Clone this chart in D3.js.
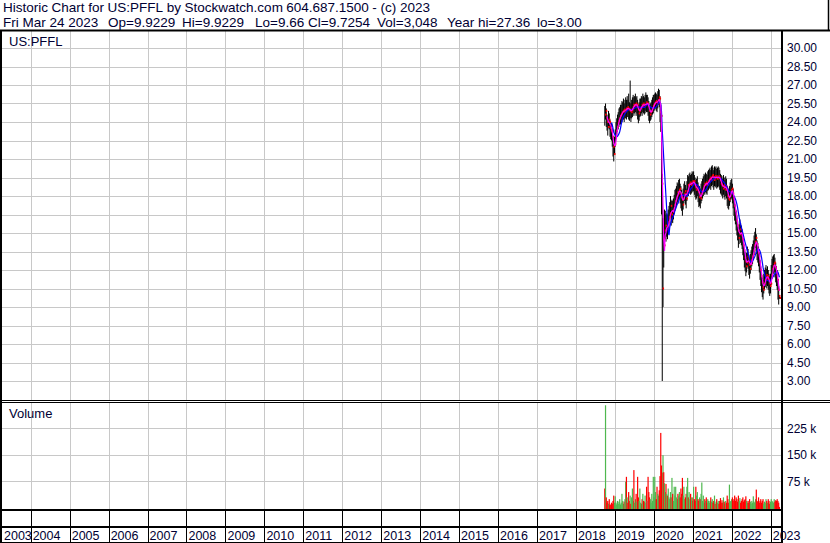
<!DOCTYPE html>
<html>
<head>
<meta charset="utf-8">
<script src="https://cdn.jsdelivr.net/npm/d3@7"></script>
<style>
    body { margin: 0; background: #fff; }
    text { font-family: "Liberation Sans", Arial, sans-serif; fill: #000033; }
</style>
</head>
<body>
<svg id="chart" width="830" height="543"></svg>
<script>
// weekly bars, one per friday
var firstWeek = new Date(2018, 8, 28);
var lastWeek = new Date(2023, 2, 25);

var closes = [
    24.6, 24.9, 24.3, 24.0, 23.6, 24.2, 24.0, 23.5, 23.3, 23.2, 22.8, 22.0, 21.4, 22.2,
    22.8, 23.3, 23.6, 23.9, 24.1, 24.3, 24.5, 24.6, 24.7, 24.8, 24.9, 25.0, 24.8, 25.0, 25.1, 25.0, 25.2,
    25.1, 25.0, 24.9, 25.0, 24.8, 25.0, 25.2, 25.4, 25.3, 25.4, 25.5, 25.3, 25.4, 25.0, 24.7, 24.9, 25.1, 25.2,
    25.4, 25.3, 25.5, 25.4, 25.3, 25.4, 25.6, 25.5, 25.5, 25.3, 24.9, 24.6, 24.8, 24.9, 25.1, 25.3, 25.4,
    25.5, 25.6, 25.7, 25.6, 25.5, 25.8, 26.0, 25.9, 24.8, 24.5, 19.0, 10.5, 14.5, 14.0, 15.2, 15.6, 15.3,
    15.6, 15.4, 15.9, 16.3, 16.6, 17.2, 16.5, 16.8, 16.7, 17.0, 17.3, 17.6, 17.8, 18.0, 18.3, 18.2, 18.5, 18.6,
    18.2, 17.9, 17.7, 17.3, 17.8, 18.2, 18.4, 18.1, 17.8, 18.4, 18.9, 18.8, 19.0, 19.1, 18.9, 19.0, 19.2,
    19.1, 19.2, 18.9, 18.7, 18.5, 18.6, 18.8, 18.3, 17.9, 18.0, 17.8, 18.2, 18.4, 18.6, 18.8, 19.0, 18.9, 19.1,
    19.0, 18.9, 19.2, 19.3, 19.4, 19.5, 19.3, 19.6, 19.7, 19.5, 19.3, 19.6, 19.5, 19.6, 19.4, 19.5, 19.6,
    19.5, 19.3, 19.0, 18.9, 18.8, 18.6, 18.9, 18.7, 18.5, 18.8, 18.6, 18.0, 17.8, 17.7, 18.0, 18.3, 18.5, 18.6,
    18.2, 17.8, 17.2, 16.8, 16.5, 16.0, 15.6, 15.2, 14.6, 14.9, 15.3, 15.0, 14.8, 14.5, 14.0, 13.6, 13.0,
    12.7, 12.3, 12.6, 13.1, 12.9, 12.4, 12.1, 12.5, 12.8, 13.1, 13.3, 13.6, 14.0, 14.3, 14.6, 14.1, 13.6,
    13.4, 13.1, 12.6, 12.0, 11.5, 11.0, 10.6, 10.4, 10.9, 11.2, 11.4, 11.6, 11.3, 11.5, 11.2, 10.9, 10.7, 10.9,
    11.6, 12.1, 12.3, 12.5, 12.6, 12.2, 11.8, 11.5, 11.2, 10.4, 9.9, 9.73
];

var highs = [
    25.3, 25.5, 25.1, 24.6, 24.4, 24.9, 24.7, 24.2, 23.9, 23.9, 23.5, 22.8, 22.2, 22.8,
    23.4, 24.0, 24.3, 24.6, 24.8, 25.1, 25.2, 25.4, 25.4, 25.7, 25.6, 25.9, 25.5, 25.8, 26.0, 25.8, 26.1,
    25.8, 26.3, 25.6, 27.36, 25.5, 25.8, 26.0, 26.2, 26.0, 26.1, 26.3, 26.0, 26.1, 25.8, 25.4, 25.6, 25.9, 25.9,
    26.1, 26.0, 26.3, 26.1, 26.0, 26.2, 26.4, 26.2, 26.2, 26.0, 25.7, 25.3, 25.5, 25.6, 25.8, 26.0, 26.2,
    26.2, 26.3, 26.4, 26.3, 26.2, 26.5, 26.7, 26.6, 26.1, 25.4, 24.8, 19.8, 16.2, 15.8, 16.9, 16.8, 16.5,
    16.6, 16.5, 16.9, 17.2, 17.5, 18.0, 17.6, 17.7, 17.6, 17.8, 18.1, 18.5, 18.6, 18.8, 19.1, 19.0, 19.3, 19.4,
    19.0, 18.8, 18.5, 18.2, 18.6, 19.0, 19.2, 18.9, 18.6, 19.2, 19.7, 19.6, 19.8, 19.9, 19.7, 19.8, 20.0,
    19.9, 20.0, 19.7, 19.5, 19.3, 19.4, 19.6, 19.1, 18.7, 18.8, 18.6, 19.0, 19.2, 19.4, 19.6, 19.8, 19.7, 19.9,
    19.8, 19.7, 20.0, 20.1, 20.2, 20.3, 20.1, 20.4, 20.5, 20.3, 20.1, 20.4, 20.3, 20.4, 20.2, 20.3, 20.4,
    20.3, 20.1, 19.8, 19.7, 19.6, 19.4, 19.7, 19.5, 19.3, 19.6, 19.4, 18.8, 18.6, 18.5, 18.8, 19.1, 19.3, 19.4,
    19.0, 18.6, 18.0, 17.6, 17.3, 16.8, 16.4, 16.0, 15.5, 15.7, 16.1, 15.8, 15.6, 15.3, 14.8, 14.4, 13.8,
    13.5, 13.1, 13.4, 13.9, 13.7, 13.2, 12.9, 13.3, 13.6, 13.9, 14.1, 14.4, 14.8, 15.1, 15.4, 14.9, 14.4,
    14.2, 13.9, 13.4, 12.8, 12.3, 11.8, 11.4, 11.2, 11.7, 12.0, 12.2, 12.4, 12.1, 12.3, 12.0, 11.7, 11.5, 11.7,
    12.4, 12.9, 13.1, 13.2, 13.3, 13.0, 12.6, 12.3, 12.0, 11.2, 10.7, 9.92
];

var lows = [
    23.7, 24.2, 23.6, 23.3, 22.9, 23.5, 23.4, 22.8, 22.6, 22.5, 22.0, 21.2, 20.8, 21.4,
    22.0, 22.6, 22.9, 23.2, 23.4, 23.6, 23.8, 23.8, 24.0, 24.0, 24.2, 24.2, 24.0, 24.3, 24.3, 24.2, 24.4,
    24.4, 24.2, 24.1, 24.3, 24.0, 24.3, 24.4, 24.7, 24.5, 24.7, 24.8, 24.5, 24.7, 24.2, 23.9, 24.1, 24.4, 24.5,
    24.7, 24.5, 24.8, 24.7, 24.6, 24.7, 24.9, 24.8, 24.8, 24.5, 24.1, 23.9, 24.1, 24.2, 24.4, 24.6, 24.7,
    24.9, 25.0, 25.1, 24.9, 24.8, 25.1, 25.4, 25.2, 24.0, 23.2, 16.5, 3.0, 9.0, 12.2, 13.6, 14.5, 14.3,
    14.7, 14.5, 15.0, 15.4, 15.8, 16.3, 15.6, 15.9, 15.8, 16.1, 16.5, 16.8, 17.0, 17.2, 17.5, 17.4, 17.7, 17.8,
    17.4, 17.0, 16.8, 16.4, 16.9, 17.4, 17.6, 17.3, 17.0, 17.6, 18.1, 18.0, 18.2, 18.3, 18.1, 18.2, 18.4,
    18.3, 18.4, 18.1, 17.9, 17.7, 17.8, 18.0, 17.5, 17.1, 17.2, 17.0, 17.4, 17.6, 17.8, 18.0, 18.2, 18.1, 18.3,
    18.2, 18.1, 18.4, 18.5, 18.6, 18.7, 18.5, 18.8, 18.9, 18.7, 18.5, 18.8, 18.7, 18.8, 18.6, 18.7, 18.8,
    18.7, 18.5, 18.2, 18.1, 18.0, 17.8, 18.1, 17.9, 17.7, 18.0, 17.8, 17.2, 17.0, 16.9, 17.2, 17.5, 17.7, 17.8,
    17.4, 17.0, 16.4, 16.0, 15.7, 15.2, 14.8, 14.4, 13.8, 14.1, 14.5, 14.2, 14.0, 13.7, 13.2, 12.8, 12.2,
    11.9, 11.5, 11.8, 12.3, 12.1, 11.6, 11.3, 11.7, 12.0, 12.3, 12.5, 12.8, 13.2, 13.5, 13.8, 13.3, 12.8,
    12.6, 12.3, 11.8, 11.2, 10.7, 10.2, 9.8, 9.6, 10.1, 10.4, 10.6, 10.8, 10.5, 10.7, 10.4, 10.1, 9.9, 10.1,
    10.8, 11.3, 11.5, 11.7, 11.8, 11.4, 11.0, 10.7, 10.4, 9.6, 9.2, 9.66
];

// thousands of shares
var volumes = [
    55, 290, 30, 15, 20, 12, 25, 8, 10, 15, 12, 20, 35, 15,
    33, 15, 10, 20, 12, 18, 25, 10, 15, 40, 20, 12, 18, 25, 74, 88, 30,
    15, 45, 20, 35, 12, 30, 55, 20, 107, 15, 25, 40, 18, 88, 30, 20, 55, 15,
    12, 25, 40, 20, 18, 35, 15, 60, 20, 88, 45, 30, 25, 15, 40, 20, 88,
    30, 88, 45, 25, 60, 40, 35, 50, 90, 212, 120, 100, 149, 101, 70, 45, 68,
    40, 35, 55, 30, 25, 45, 30, 85, 40, 20, 60, 35, 60, 30, 25, 40, 35, 45,
    30, 55, 40, 85, 35, 60, 25, 30, 40, 60, 85, 30, 45, 25, 40, 30, 20,
    30, 60, 25, 20, 60, 35, 45, 25, 20, 30, 25, 40, 72, 20, 35, 15, 25, 20,
    30, 15, 25, 20, 15, 20, 30, 18, 25, 15, 20, 35, 12, 18, 25, 15, 20,
    12, 20, 28, 15, 22, 15, 30, 18, 12, 20, 15, 35, 25, 15, 66, 20, 18, 25,
    30, 20, 25, 35, 20, 30, 25, 18, 35, 20, 28, 15, 20, 25, 30, 18, 22,
    25, 33, 20, 15, 20, 15, 25, 18, 12, 20, 15, 33, 18, 15, 25, 52, 20,
    18, 30, 15, 20, 25, 15, 20, 25, 12, 18, 15, 25, 20, 15, 25, 20, 12, 18,
    25, 20, 18, 15, 25, 18, 22, 20, 25, 20, 15, 3
];

var priceTicks = [3.00, 4.50, 6.00, 7.50, 9.00, 10.50, 12.00, 13.50, 15.00, 16.50, 18.00,
    19.50, 21.00, 22.50, 24.00, 25.50, 27.00, 28.50, 30.00];
var volumeTicks = [75000, 150000, 225000];
var years = [2003, 2004, 2005, 2006, 2007, 2008, 2009, 2010, 2011, 2012, 2013,
    2014, 2015, 2016, 2017, 2018, 2019, 2020, 2021, 2022, 2023];

var headerWords = ["Historic", "Chart", "for", "US:PFFL", "by", "Stockwatch.com",
    "604.687.1500", "-", "(c)", "2023"];
var headerWordX = [3, 51.6, 88.2, 107.6, 166.7, 184.6, 286.3, 372.3, 380.5, 399.9];
var headerItems = ["Fri Mar 24 2023", "Op=9.9229", "Hi=9.9229", "Lo=9.66", "Cl=9.7254",
    "Vol=3,048", "Year hi=27.36", "lo=3.00"];
var headerItemX = [3, 108, 182, 255, 308, 377, 447, 537];
var symbol = "US:PFFL";

// layout
var plotL = 2, plotR = 782;
var priceTop = 31, priceBot = 400;
var volTop = 403, volBot = 509;

var weeks = d3.timeFriday.range(firstWeek, lastWeek);
var bars = weeks.map(function (d, i) {
    return {
        date: d, close: closes[i], high: highs[i], low: lows[i],
        vol: volumes[i] * 1000,
        dir: i == 0 ? -1 : Math.sign(closes[i] - closes[i - 1])
    };
});

function movingAvg(n) {
    return bars.map(function (d, i) {
        if (i < n - 1) return null;
        return { date: d.date, v: d3.mean(closes.slice(i - n + 1, i + 1)) };
    });
}
var maShort = movingAvg(4);
var maLong = movingAvg(10);

var svg = d3.select("#chart");

svg.append("rect").attr("width", 830).attr("height", 543).attr("fill", "#fff");

var x = d3.scaleTime()
    .domain([new Date(2003, 3, 7), new Date(2023, 3, 17)])
    .range([plotL, plotR]);

var y = d3.scaleLinear().domain([3, 30]).range([381, 48]);
var yVol = d3.scaleLinear().domain([0, 225000]).range([508, 428.3]);

var yearStarts = years.map(function (yr) { return new Date(yr, 0, 1); });

var defs = svg.append("defs");
defs.append("clipPath").attr("id", "clipPrice").append("rect")
    .attr("x", plotL).attr("y", priceTop).attr("width", plotR - plotL).attr("height", priceBot - priceTop);
defs.append("clipPath").attr("id", "clipVol").append("rect")
    .attr("x", plotL).attr("y", volTop).attr("width", plotR - plotL).attr("height", volBot - volTop + 1);

// grid
var grid = svg.append("g").attr("stroke", "#c8c8c8").attr("stroke-width", 1);
grid.selectAll(".hp").data(priceTicks).enter().append("line")
    .attr("x1", plotL).attr("x2", plotR)
    .attr("y1", function (d) { return Math.round(y(d)) + 0.5; })
    .attr("y2", function (d) { return Math.round(y(d)) + 0.5; });
grid.selectAll(".hv").data(volumeTicks).enter().append("line")
    .attr("x1", plotL).attr("x2", plotR)
    .attr("y1", function (d) { return Math.round(yVol(d)) + 0.5; })
    .attr("y2", function (d) { return Math.round(yVol(d)) + 0.5; });
grid.selectAll(".vp").data(yearStarts.slice(1)).enter().append("line")
    .attr("x1", function (d) { return Math.round(x(d)) + 0.5; })
    .attr("x2", function (d) { return Math.round(x(d)) + 0.5; })
    .attr("y1", priceTop).attr("y2", priceBot);
grid.selectAll(".vv").data(yearStarts.slice(1)).enter().append("line")
    .attr("x1", function (d) { return Math.round(x(d)) + 0.5; })
    .attr("x2", function (d) { return Math.round(x(d)) + 0.5; })
    .attr("y1", volTop).attr("y2", volBot);

// price bars
var priceG = svg.append("g").attr("clip-path", "url(#clipPrice)");
priceG.selectAll(".hl").data(bars).enter().append("rect")
    .attr("x", function (d) { return x(d.date) - 0.5; })
    .attr("y", function (d) { return y(d.high); })
    .attr("width", 1)
    .attr("height", function (d) { return Math.max(1, y(d.low) - y(d.high)); })
    .attr("fill", "#000");

priceG.selectAll(".cl").data(bars).enter().append("rect")
    .attr("x", function (d) { return x(d.date) + 0.3; })
    .attr("y", function (d) { return y(d.close) - 1; })
    .attr("width", 1.5).attr("height", 2)
    .attr("fill", "#ff0000");

var maLine = d3.line()
    .defined(function (d) { return d != null; })
    .x(function (d) { return x(d.date); })
    .y(function (d) { return y(d.v); });
priceG.append("path").datum(maLong)
    .attr("d", maLine).attr("fill", "none").attr("stroke", "#0000ff").attr("stroke-width", 1.2);
priceG.append("path").datum(maShort)
    .attr("d", maLine).attr("fill", "none").attr("stroke", "#ff00ff").attr("stroke-width", 1.2);

// volume bars
var volG = svg.append("g").attr("clip-path", "url(#clipVol)");
volG.selectAll("rect").data(bars).enter().append("rect")
    .attr("x", function (d) { return x(d.date) - 0.6; })
    .attr("y", function (d) { return yVol(d.vol); })
    .attr("width", 1.2)
    .attr("height", function (d) { return volBot + 1 - yVol(d.vol); })
    .attr("fill", function (d) {
        return d.dir > 0 ? "#4fb84f" : (d.dir < 0 ? "#ff0000" : "#a0a0a0");
    });

// frame
var frame = svg.append("g").attr("stroke", "#000");
frame.append("line").attr("x1", 0).attr("x2", 830).attr("y1", 30.5).attr("y2", 30.5).attr("stroke-width", 2);
frame.append("line").attr("x1", 828.5).attr("x2", 828.5).attr("y1", 0).attr("y2", 31).attr("stroke-width", 1.5);
frame.append("line").attr("x1", 1).attr("x2", 1).attr("y1", 30).attr("y2", 543).attr("stroke-width", 2);
frame.append("line").attr("x1", plotR).attr("x2", plotR).attr("y1", 30).attr("y2", 543).attr("stroke-width", 2);
frame.append("line").attr("x1", 0).attr("x2", 830).attr("y1", 400.5).attr("y2", 400.5).attr("stroke-width", 1);
frame.append("line").attr("x1", 0).attr("x2", 830).attr("y1", 402.5).attr("y2", 402.5).attr("stroke-width", 1);
frame.append("line").attr("x1", 0).attr("x2", plotR).attr("y1", 510).attr("y2", 510).attr("stroke-width", 2);
frame.append("line").attr("x1", 0).attr("x2", plotR).attr("y1", 527).attr("y2", 527).attr("stroke-width", 2);
frame.append("line").attr("x1", 0).attr("x2", plotR).attr("y1", 542.5).attr("y2", 542.5).attr("stroke-width", 1);
frame.selectAll(".tk").data(yearStarts.slice(1)).enter().append("line")
    .attr("x1", function (d) { return Math.round(x(d)) + 0.5; })
    .attr("x2", function (d) { return Math.round(x(d)) + 0.5; })
    .attr("y1", 510).attr("y2", 543).attr("stroke-width", 1);

// texts
svg.selectAll(".hw").data(headerWords).enter().append("text")
    .attr("x", function (d, i) { return headerWordX[i]; })
    .attr("y", 12).attr("font-size", "13.5px")
    .text(function (d) { return d; });
svg.selectAll(".hd").data(headerItems).enter().append("text")
    .attr("x", function (d, i) { return headerItemX[i]; })
    .attr("y", 27).attr("font-size", "13.5px")
    .text(function (d) { return d; });
svg.append("text").attr("x", 9).attr("y", 46).attr("font-size", "13px").text(symbol);
svg.append("text").attr("x", 9).attr("y", 418).attr("font-size", "13px").text("Volume");

svg.selectAll(".pt").data(priceTicks).enter().append("text")
    .attr("x", 787).attr("y", function (d) { return y(d); })
    .attr("dy", "0.36em").attr("font-size", "12px")
    .text(d3.format(".2f"));
svg.selectAll(".vt").data(volumeTicks).enter().append("text")
    .attr("x", 787).attr("y", function (d) { return yVol(d); })
    .attr("dy", "0.36em").attr("font-size", "12px")
    .text(function (d) { return (d / 1000) + " k"; });

svg.selectAll(".yr").data(years).enter().append("text")
    .attr("x", function (d, i) { return Math.max(x(yearStarts[i]), plotL) + 2; })
    .attr("y", 540).attr("font-size", "12.5px")
    .text(function (d) { return d; });
</script>
</body>
</html>
